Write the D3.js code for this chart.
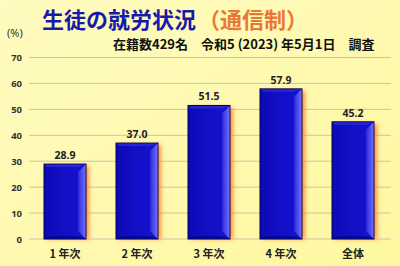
<!DOCTYPE html>
<html><head><meta charset="utf-8">
<script src="https://cdn.jsdelivr.net/npm/d3@7"></script>
<style>
html,body{margin:0;padding:0;background:#fef8a6;}
svg{display:block;}
</style></head>
<body>
<script>
const categories = ["1 年次", "2 年次", "3 年次", "4 年次", "全体"];
const values = [28.9, 37.0, 51.5, 57.9, 45.2];
const yTicks = [0, 10, 20, 30, 40, 50, 60, 70];
const titleMain = "生徒の就労状況";
const titleSub = "（通信制）";
const subtitle = "在籍数429名　令和5 (2023) 年5月1日　調査";
const unitLabel = "(%)";

const W = 400, H = 266;
const svg = d3.select("body").append("svg").attr("width", W).attr("height", H);
const defs = svg.append("defs");

const bgGrad = defs.append("linearGradient").attr("id","bg").attr("x1",0).attr("y1",0).attr("x2",1).attr("y2",1);
bgGrad.append("stop").attr("offset","0%").attr("stop-color","#fffbc0");
bgGrad.append("stop").attr("offset","100%").attr("stop-color","#fef7a0");
svg.append("rect").attr("width",W).attr("height",H).attr("fill","url(#bg)");

const blur = defs.append("filter").attr("id","glow").attr("x","-50%").attr("y","-20%").attr("width","200%").attr("height","140%");
blur.append("feGaussianBlur").attr("stdDeviation",2.2);

const barGrad = defs.append("linearGradient").attr("id","barg").attr("x1",0).attr("y1",0).attr("x2",1).attr("y2",0);
barGrad.append("stop").attr("offset","0%").attr("stop-color","#0c0ab6");
barGrad.append("stop").attr("offset","60%").attr("stop-color","#1410ca");
barGrad.append("stop").attr("offset","100%").attr("stop-color","#1814ce");

const sideGrad = defs.append("linearGradient").attr("id","sideg").attr("x1",0).attr("y1",0).attr("x2",1).attr("y2",0);
sideGrad.append("stop").attr("offset","0%").attr("stop-color","#2a2ae0");
sideGrad.append("stop").attr("offset","100%").attr("stop-color","#7a7aff");

const x = d3.scaleBand().domain(categories).range([29, 389]).paddingInner(0.417).paddingOuter(0.2085);
const y = d3.scaleLinear().domain([0, 70]).range([239, 57.5]);

// grid
svg.append("g").selectAll("line").data(yTicks).join("line")
  .attr("x1", 29).attr("x2", 391)
  .attr("y1", d => y(d)).attr("y2", d => y(d))
  .attr("stroke", "#c8c4a8").attr("stroke-width", 1);

// y axis labels
const yAxis = d3.axisLeft(y).tickValues(yTicks).tickSize(0).tickPadding(0).tickFormat(d3.format("d"));
const ya = svg.append("g").attr("transform","translate(22,0)").call(yAxis);
ya.select(".domain").remove();
ya.selectAll("text").attr("font-family","Noto Sans, sans-serif").attr("font-size",9.5).attr("font-weight","bold").attr("fill","#333").attr("dy","0.35em");

// x axis labels
const xAxis = d3.axisBottom(x).tickSize(0).tickPadding(0);
const xa = svg.append("g").attr("transform","translate(0,250)").call(xAxis);
xa.select(".domain").remove();
xa.selectAll("text").attr("font-family","Noto Sans CJK JP, sans-serif").attr("font-size",11).attr("font-weight","bold").attr("fill","#222");

const bw = x.bandwidth();
const bars = svg.append("g").selectAll("g").data(values).join("g")
  .attr("transform", (d,i) => `translate(${x(categories[i])},0)`);

// orange glow
bars.append("rect")
  .attr("x", 3).attr("y", d => y(d) + 2)
  .attr("width", bw).attr("height", d => y(0) - y(d) - 2)
  .attr("fill", "#ff7a30").attr("opacity", 0.85).attr("filter","url(#glow)");

bars.append("rect")
  .attr("x", 0).attr("y", d => y(d))
  .attr("width", bw).attr("height", d => y(0) - y(d))
  .attr("fill", "url(#barg)").attr("stroke","#00004a").attr("stroke-width",1);

// right bevel
bars.append("path")
  .attr("d", d => {
    const t = y(d), b = y(0), s = 8;
    return `M${bw-s},${t+s} L${bw-0.5},${t+0.5} L${bw-0.5},${b-0.5} L${bw-s},${b-s} Z`;
  })
  .attr("fill","url(#sideg)").attr("opacity",0.9);
// top bevel
bars.append("path")
  .attr("d", d => {
    const t = y(d), s = 3;
    return `M0.5,${t+0.5} L${bw-0.5},${t+0.5} L${bw-8},${t+s} L${s},${t+s} Z`;
  })
  .attr("fill","#3030d8").attr("opacity",0.7);
// bottom bevel
bars.append("path")
  .attr("d", d => {
    const b = y(0), s = 3;
    return `M0.5,${b-0.5} L${bw-0.5},${b-0.5} L${bw-8},${b-s} L${s},${b-s} Z`;
  })
  .attr("fill","#06068a").attr("opacity",0.8);

// value labels
svg.append("g").selectAll("text").data(values).join("text")
  .attr("x", (d,i) => x(categories[i]) + bw/2)
  .attr("y", d => y(d) - 5)
  .attr("text-anchor","middle")
  .attr("font-family","Noto Sans, sans-serif").attr("font-size",10.5).attr("font-weight","bold").attr("fill","#222")
  .text(d => d.toFixed(1));

// titles
const t = svg.append("text").attr("x", 42).attr("y", 28)
  .attr("font-family","Noto Sans CJK JP, sans-serif").attr("font-size",22).attr("font-weight","bold");
t.append("tspan").attr("fill","#1a1aa8").text(titleMain);
t.append("tspan").attr("fill","#e87836").attr("dx",2).text(titleSub);

svg.append("text").attr("x", 113).attr("y", 49)
  .attr("font-family","Noto Sans CJK JP, sans-serif").attr("font-size",13).attr("font-weight","bold").attr("fill","#111")
  .text(subtitle);

svg.append("text").attr("x", 7).attr("y", 37)
  .attr("font-family","Noto Sans, sans-serif").attr("font-size",11).attr("fill","#333")
  .text(unitLabel);
</script>
</body></html>
